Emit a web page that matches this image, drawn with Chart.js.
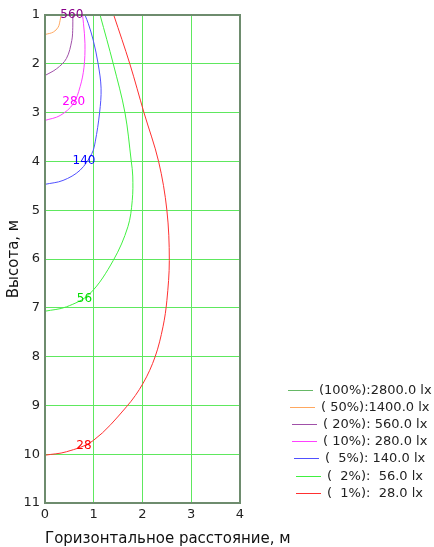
<!DOCTYPE html>
<html>
<head>
<meta charset="utf-8">
<script src="https://cdn.jsdelivr.net/npm/chart.js@4/dist/chart.umd.min.js"></script>
<style>
    html, body { margin: 0; padding: 0; background: #fff; }
</style>
</head>
<body>
<canvas id="chart" width="434" height="547"></canvas>
<script>
// исходные данные изолюкс (x - горизонтальное расстояние, y - высота)
const xTicks = [0, 1, 2, 3, 4];
const yTicks = [1, 2, 3, 4, 5, 6, 7, 8, 9, 10, 11];
const xTitle = 'Горизонтальное расстояние, м';
const yTitle = 'Высота, м';

const legendNames = ['(100%):2800.0 lx', '( 50%):1400.0 lx', '( 20%): 560.0 lx', '( 10%): 280.0 lx',
    '(  5%): 140.0 lx', '(  2%):  56.0 lx', '(  1%):  28.0 lx'];
const lineColors = ['#66b866', '#ffa860', '#a050a8', '#ff40ff', '#5050ff', '#40f040', '#ff3030'];

const x2800 = [];
const y2800 = [];
const x1400 = [0, 0.17, 0.27, 0.31, 0.33];
const y1400 = [1.40, 1.35, 1.25, 1.11, 1.0];
const x560 = [0, 0.24, 0.44, 0.55, 0.57, 0.57];
const y560 = [2.24, 2.10, 1.89, 1.52, 1.25, 1.0];
const x280 = [0, 0.31, 0.58, 0.72, 0.80, 0.82, 0.79, 0.77];
const y280 = [3.16, 3.06, 2.82, 2.47, 2.07, 1.59, 1.18, 1.0];
const x140 = [0, 0.37, 0.72, 0.96, 1.03, 1.12, 1.15, 1.09, 0.99, 0.89, 0.82];
const y140 = [4.47, 4.39, 4.18, 3.84, 3.6, 3.0, 2.5, 2.0, 1.52, 1.18, 1.0];
const x56 = [0, 0.44, 0.92, 1.40, 1.70, 1.79, 1.80, 1.77, 1.64, 1.40, 1.13];
const y56 = [7.07, 6.98, 6.71, 6.03, 5.34, 4.8, 4.3, 4.0, 3.0, 2.0, 1.0];
const x28 = [0, 0.44, 0.99, 1.67, 2.01, 2.26, 2.42, 2.50, 2.55, 2.50, 2.33, 2.03, 1.74, 1.41];
const y28 = [10.02, 9.95, 9.72, 9.03, 8.55, 8.0, 7.39, 6.85, 6.03, 5.0, 4.0, 3.0, 2.0, 1.0];

// подписи на кривых
const curveLabels = ['560', '280', '140', '56', '28'];
const curveLabelX = [0.55, 0.59, 0.80, 0.81, 0.80];
const curveLabelY = [1.0, 2.77, 3.99, 6.81, 9.82];
const curveLabelColors = ['#880088', '#ff00ff', '#0000ff', '#00dd00', '#ff0000'];

const seriesX = [x2800, x1400, x560, x280, x140, x56, x28];
const seriesY = [y2800, y1400, y560, y280, y140, y56, y28];

const FONT = "'DejaVu Sans', Verdana, sans-serif";
const gridColor = '#5ee85e';
const frameColor = '#6e8c6e';

var datasets = seriesX.map(function (xs, i) {
    return {
        label: legendNames[i],
        data: xs.map(function (x, j) { return {x: x, y: seriesY[i][j]}; }),
        borderColor: lineColors[i],
        backgroundColor: lineColors[i],
        borderWidth: 1,
        pointRadius: 0,
        showLine: true,
        tension: 0.35,
        fill: false
    };
});

//рамка графика и подписи
var framePlugin = {
    id: 'frame',
    afterDatasetsDraw: function (chart) {
        var a = chart.chartArea, ctx = chart.ctx;
        ctx.save();
        ctx.strokeStyle = frameColor;
        ctx.lineWidth = 2;
        ctx.strokeRect(a.left, a.top, a.right - a.left, a.bottom - a.top);
        //подписи значений
        ctx.font = '12px ' + FONT;
        ctx.textAlign = 'center';
        ctx.textBaseline = 'middle';
        curveLabels.forEach(function (t, i) {
            ctx.fillStyle = curveLabelColors[i];
            ctx.fillText(t, chart.scales.x.getPixelForValue(curveLabelX[i]), chart.scales.y.getPixelForValue(curveLabelY[i]));
        });
        //подпись оси X (без сжатия по ширине)
        ctx.font = '15px ' + FONT;
        ctx.fillStyle = '#111';
        ctx.textAlign = 'left';
        ctx.fillText(xTitle, a.left, chart.height - 8);
        ctx.restore();
    }
};

//легенда
var legendPlugin = {
    id: 'sideLegend',
    afterDraw: function (chart) {
        var ctx = chart.ctx;
        ctx.save();
        ctx.font = '13px ' + FONT;
        ctx.textBaseline = 'middle';
        ctx.textAlign = 'left';
        var cx = 360, y0 = 390, step = 17.1, lineLen = 25, gap = 6;
        chart.data.datasets.forEach(function (ds, i) {
            var w = ctx.measureText(ds.label).width;
            var left = Math.round(cx - (lineLen + gap + w) / 2);
            var y = Math.round(y0 + i * step) + 0.5;
            ctx.strokeStyle = ds.borderColor;
            ctx.lineWidth = 1;
            ctx.beginPath();
            ctx.moveTo(left, y);
            ctx.lineTo(left + lineLen, y);
            ctx.stroke();
            ctx.fillStyle = '#222';
            ctx.fillText(ds.label, left + lineLen + gap, y);
        });
        ctx.restore();
    }
};

new Chart(document.getElementById('chart').getContext('2d'), {
    type: 'scatter',
    data: {datasets: datasets},
    options: {
        responsive: false,
        animation: false,
        devicePixelRatio: 1,
        layout: {padding: {top: 15, right: 194, left: 0, bottom: 0}},
        plugins: {legend: {display: false}, tooltip: {enabled: false}},
        scales: {
            x: {
                type: 'linear',
                min: xTicks[0],
                max: xTicks[xTicks.length - 1],
                afterBuildTicks: function (s) { s.ticks = xTicks.map(function (v) { return {value: v}; }); },
                afterFit: function (s) { s.height = 44; },
                ticks: {color: '#222', font: {family: FONT, size: 13}, padding: 4},
                grid: {color: gridColor, drawTicks: false, lineWidth: 1},
                border: {color: frameColor, width: 2}
            },
            y: {
                type: 'linear',
                reverse: true,
                min: yTicks[0],
                max: yTicks[yTicks.length - 1],
                afterBuildTicks: function (s) { s.ticks = yTicks.map(function (v) { return {value: v}; }); },
                afterFit: function (s) { s.width = 45; },
                ticks: {color: '#222', font: {family: FONT, size: 13}, padding: 5},
                grid: {color: gridColor, drawTicks: false, lineWidth: 1},
                border: {color: frameColor, width: 2},
                title: {
                    display: true,
                    text: yTitle,
                    color: '#111',
                    font: {family: FONT, size: 15, lineHeight: 1},
                    padding: {top: 7, bottom: 0}
                }
            }
        }
    },
    plugins: [framePlugin, legendPlugin]
});
</script>
</body>
</html>
